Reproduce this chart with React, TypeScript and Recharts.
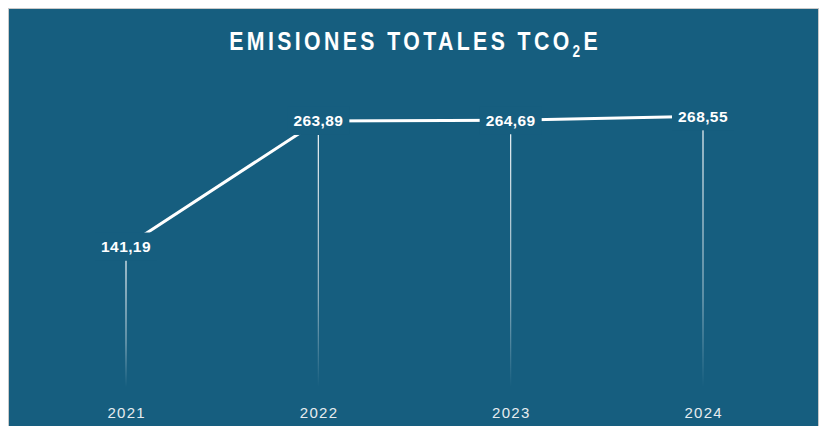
import { LineChart, Line, XAxis, YAxis, LabelList } from "recharts";

const years = ["2021", "2022", "2023", "2024"];
const emissions = [141.19, 263.89, 264.69, 268.55];
const yDomain = [0, 300];

const W = 823;
const H = 426;
const BG = "#165e7f";
const MARGIN = { top: 84, right: 120, bottom: 5, left: 126 };
const AXIS_H = 30;
const PLOT_BOTTOM = H - MARGIN.bottom - AXIS_H;

const data = years.map((year, i) => ({ year, value: emissions[i] }));

const fmt = (v: number) => v.toFixed(2).replace(".", ",");

// label sits on the point and hides the line behind it
const ValueLabel = (props: any) => {
  const { x, y, value } = props;
  return (
    <g>
      <rect x={x - 31} y={y - 14} width={62} height={28} fill={BG} />
      <text
        x={x}
        y={y}
        textAnchor="middle"
        dominantBaseline="central"
        fill="#ffffff"
        fontFamily="'Liberation Sans', Arial, sans-serif"
        fontWeight={700}
        fontSize={15.5}
        letterSpacing={0.4}
      >
        {fmt(value)}
      </text>
    </g>
  );
};

// thin fading drop line under each point
const DropDot = (props: any) => {
  const { cx, cy, index } = props;
  const top = cy + 14;
  const bottom = PLOT_BOTTOM - 4;
  return (
    <rect
      key={`drop-${index}`}
      x={cx - 0.6}
      y={top}
      width={1.2}
      height={Math.max(0, bottom - top)}
      fill="url(#dropFade)"
    />
  );
};

const YearTick = (props: any) => {
  const { x, y, payload } = props;
  return (
    <text
      x={x}
      y={y}
      dx={0.7}
      dy={19}
      textAnchor="middle"
      fill="#e6ecef"
      fontFamily="'Liberation Sans', Arial, sans-serif"
      fontSize={15}
      letterSpacing={1.3}
    >
      {payload.value}
    </text>
  );
};

export default function App() {
  return (
    <div style={{ position: "absolute", left: 0, top: 0, width: W, height: H, overflow: "hidden", background: "#ffffff" }}>
      <div
        style={{
          position: "absolute",
          left: 8,
          top: 8,
          width: 809,
          height: H,
          background: BG,
          border: "1px solid #c9c9c9",
        }}
      />
      <div
        style={{
          position: "absolute",
          left: 9,
          top: 29,
          width: 809,
          textAlign: "center",
          color: "#ffffff",
          fontFamily: "'Liberation Sans', Arial, sans-serif",
          fontWeight: 700,
          fontSize: 25,
          lineHeight: "25px",
          letterSpacing: 4,
          paddingLeft: 4,
          boxSizing: "border-box",
          transform: "scaleX(0.85)",
          transformOrigin: "50% 50%",
        }}
      >
        EMISIONES TOTALES TCO
        <span style={{ fontSize: 16, position: "relative", top: 7, lineHeight: 0 }}>2</span>E
      </div>
      <div style={{ position: "absolute", left: 0, top: 0 }}>
        <LineChart width={W} height={H} data={data} margin={MARGIN}>
          <defs>
            <linearGradient id="dropFade" x1="0" y1="0" x2="0" y2="1">
              <stop offset="0%" stopColor="#ffffff" stopOpacity={0.95} />
              <stop offset="65%" stopColor="#ffffff" stopOpacity={0.5} />
              <stop offset="100%" stopColor="#ffffff" stopOpacity={0} />
            </linearGradient>
          </defs>
          <XAxis
            dataKey="year"
            height={AXIS_H}
            axisLine={false}
            tickLine={false}
            tick={<YearTick />}
            interval={0}
          />
          <YAxis hide domain={yDomain} />
          <Line
            type="linear"
            dataKey="value"
            stroke="#ffffff"
            strokeWidth={3}
            dot={<DropDot />}
            activeDot={false}
            isAnimationActive={false}
          >
            <LabelList dataKey="value" content={<ValueLabel />} />
          </Line>
        </LineChart>
      </div>
    </div>
  );
}
